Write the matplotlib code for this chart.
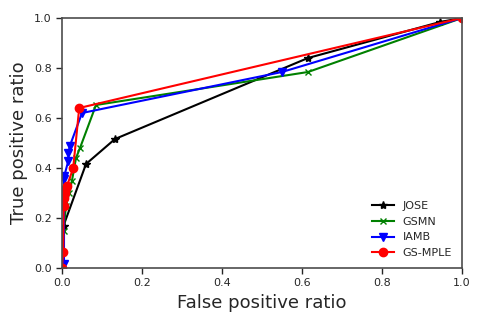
import matplotlib
matplotlib.use('Agg')
import matplotlib.pyplot as plt

# ROC-like curves (false positive ratio, true positive ratio)
jose_fpr = [0.0, 0.004, 0.06, 0.1325, 0.615, 0.945, 1.0]
jose_tpr = [0.0, 0.17, 0.416, 0.516, 0.84, 0.984, 1.0]

gsmn_fpr = [0.0, 0.004, 0.01, 0.018, 0.025, 0.035, 0.045, 0.085, 0.615, 1.0]
gsmn_tpr = [0.0, 0.15, 0.25, 0.30, 0.35, 0.44, 0.48, 0.652, 0.784, 1.0]

iamb_fpr = [0.005, 0.005, 0.006, 0.016, 0.016, 0.02, 0.05, 0.55, 1.0]
iamb_tpr = [0.015, 0.355, 0.37, 0.43, 0.462, 0.49, 0.62, 0.784, 1.0]

mple_fpr = [0.0, 0.003, 0.004, 0.005, 0.008, 0.01, 0.013, 0.028, 0.043, 1.0]
mple_tpr = [0.0, 0.065, 0.25, 0.28, 0.30, 0.32, 0.33, 0.40, 0.64, 1.0]

plt.rcParams['text.color'] = '.15'
plt.rcParams['axes.labelcolor'] = '.15'
plt.rcParams['xtick.color'] = '.15'
plt.rcParams['ytick.color'] = '.15'

fig = plt.figure(figsize=(4.85, 3.23), dpi=100)
ax = fig.add_axes([62 / 485, 1 - 268 / 323, 400 / 485, 250 / 323])

ax.plot(jose_fpr, jose_tpr, color='black', marker='*', markersize=6, linewidth=1.5, label='JOSE')
ax.plot(gsmn_fpr, gsmn_tpr, color='green', marker='x', markersize=5, linewidth=1.5, label='GSMN')
ax.plot(iamb_fpr, iamb_tpr, color='blue', marker='v', markersize=6, linewidth=1.5, label='IAMB')
ax.plot(mple_fpr, mple_tpr, color='red', marker='o', markersize=6, linewidth=1.5, label='GS-MPLE')

ax.set_xlim(0, 1)
ax.set_ylim(0, 1)
ax.set_xlabel('False positive ratio', fontsize=13)
ax.set_ylabel('True positive ratio', fontsize=13)
ax.tick_params(labelsize=8, direction='out', length=4, width=1)
for sp in ax.spines.values():
    sp.set_color('.3')
    sp.set_linewidth(1.2)

ax.legend(loc='lower right', frameon=False, fontsize=8)

fig.savefig('out.png', dpi=100)
